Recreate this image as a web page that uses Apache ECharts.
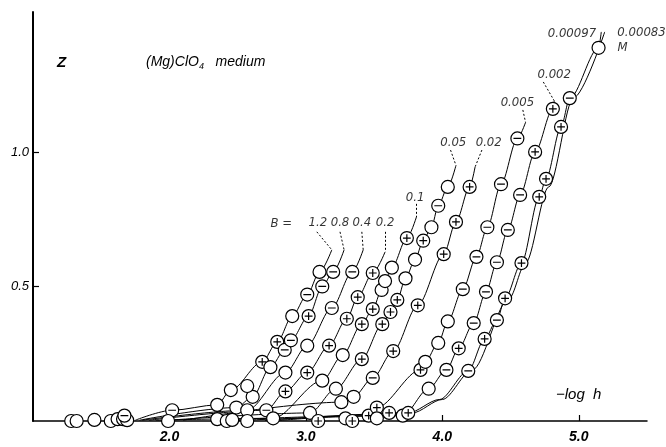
<!DOCTYPE html>
<html>
<head>
<meta charset="utf-8">
<script src="https://cdn.jsdelivr.net/npm/echarts@6/dist/echarts.min.js"></script>
<style>
  html, body { margin: 0; padding: 0; background: #fff; }
  #chart { width: 666px; height: 447px; }
</style>
</head>
<body>
<div id="chart"></div>
<script>
// B values (M) of each curve, left to right
const curveB = ['1.2', '0.8', '0.4', '0.2', '0.1', '0.05', '0.02', '0.005', '0.002', '0.00097', '0.00083'];

// points: [-log h, Z, mark]  mark: 'o' plain, '+' plus, '-' minus, '' line only
const b_1_2 = [[1.75, 0.003, ''], [2.02, 0.04, '-'], [2.35, 0.06, 'o'], [2.45, 0.115, 'o'], [2.68, 0.22, '+'], [2.79, 0.294, '+'], [2.90, 0.39, 'o'], [3.01, 0.47, '-'], [3.10, 0.554, 'o'], [3.19, 0.636, '']];
const b_0_8 = [[1.78, 0.003, ''], [2.49, 0.05, 'o'], [2.61, 0.09, 'o'], [2.74, 0.20, 'o'], [2.845, 0.264, '-'], [2.89, 0.30, '-'], [3.02, 0.39, '+'], [3.12, 0.50, '-'], [3.20, 0.554, '-'], [3.28, 0.636, '']];
const b_0_4 = [[1.80, 0.003, ''], [2.57, 0.04, 'o'], [2.85, 0.18, 'o'], [3.01, 0.28, 'o'], [3.19, 0.42, '-'], [3.34, 0.554, '-'], [3.42, 0.636, '']];
const b_0_2 = [[1.85, 0.003, ''], [2.71, 0.04, '-'], [2.85, 0.11, '+'], [3.01, 0.18, '+'], [3.17, 0.28, '+'], [3.30, 0.38, '+'], [3.38, 0.46, '+'], [3.49, 0.55, '+'], [3.58, 0.628, '']];
const b_0_1 = [[1.90, 0.003, ''], [2.76, 0.01, 'o'], [3.12, 0.15, 'o'], [3.27, 0.245, 'o'], [3.41, 0.36, '+'], [3.49, 0.416, '+'], [3.555, 0.487, 'o'], [3.58, 0.52, 'o'], [3.63, 0.57, 'o'], [3.74, 0.68, '+'], [3.81, 0.758, '']];
const b_0_05 = [[2.00, 0.003, ''], [3.03, 0.03, 'o'], [3.22, 0.12, 'o'], [3.41, 0.23, '+'], [3.56, 0.36, '+'], [3.62, 0.405, '+'], [3.67, 0.45, '+'], [3.73, 0.53, 'o'], [3.80, 0.60, 'o'], [3.86, 0.67, '+'], [3.92, 0.72, 'o'], [3.97, 0.80, '-'], [4.04, 0.87, 'o'], [4.10, 0.95, '']];
const b_0_02 = [[2.10, 0.003, ''], [3.26, 0.07, 'o'], [3.35, 0.09, 'o'], [3.49, 0.16, '-'], [3.64, 0.26, '+'], [3.82, 0.43, '+'], [4.01, 0.62, '+'], [4.10, 0.74, '+'], [4.20, 0.87, '+'], [4.24, 0.944, '']];
const b_0_005 = [[2.30, 0.002, ''], [3.46, 0.02, '+'], [3.52, 0.05, '+'], [3.84, 0.19, '+'], [3.875, 0.22, 'o'], [3.97, 0.29, 'o'], [4.04, 0.37, 'o'], [4.15, 0.49, '-'], [4.25, 0.61, '-'], [4.33, 0.72, '-'], [4.43, 0.88, '-'], [4.55, 1.05, '-'], [4.61, 1.11, '']];
const b_0_002 = [[2.50, 0.002, ''], [3.71, 0.02, 'o'], [3.90, 0.12, 'o'], [4.03, 0.19, '-'], [4.12, 0.27, '+'], [4.23, 0.364, '-'], [4.32, 0.48, '-'], [4.40, 0.59, '-'], [4.48, 0.71, '-'], [4.57, 0.84, '-'], [4.68, 1.00, '+'], [4.81, 1.16, '+'], [4.82, 1.19, '']];
const b_0_00097 = [[2.70, 0.002, ''], [3.75, 0.03, '+'], [3.98, 0.08, ''], [4.19, 0.186, '-'], [4.31, 0.305, '+'], [4.40, 0.375, '-'], [4.46, 0.456, '+'], [4.58, 0.587, '+'], [4.71, 0.833, '+'], [4.76, 0.90, '+'], [4.87, 1.093, '+'], [4.934, 1.20, '-'], [5.145, 1.387, 'o'], [5.165, 1.446, '']];
const b_0_00083 = [[2.80, 0.002, ''], [3.78, 0.03, ''], [4.00, 0.08, ''], [4.22, 0.19, ''], [4.49, 0.456, ''], [4.61, 0.587, ''], [4.78, 0.87, ''], [4.96, 1.20, ''], [5.19, 1.446, '']];
const curvePts = [b_1_2, b_0_8, b_0_4, b_0_2, b_0_1, b_0_05, b_0_02, b_0_005, b_0_002, b_0_00097, b_0_00083];

// points lying on the base line, not tied to one curve
const basePts = [[1.28, 0, 'o'], [1.32, 0, 'o'], [1.45, 0.004, 'o'], [1.57, 0, 'o'], [1.62, 0.007, 'o'], [1.66, 0.007, 'o'], [1.69, 0.003, 'o'], [1.67, 0.02, '-'], [1.99, 0, 'o'], [2.35, 0.007, 'o'], [2.42, 0, 'o'], [2.46, 0.004, 'o'], [2.57, 0, 'o'], [2.57, 0.13, 'o'], [3.09, 0, '+'], [3.29, 0.01, 'o'], [3.34, 0, '+'], [3.52, 0.01, 'o'], [3.61, 0.03, '+']];

// curve tags: text, label position, leader start, leader end (curve top)
const tagText = ['B =', '1.2', '0.8', '0.4', '0.2', '0.1', '0.05', '0.02', '0.005', '0.002', '0.00097', '0.00083', 'M'];
const tagPos = [[2.82, 0.732], [3.088, 0.736], [3.25, 0.736], [3.41, 0.736], [3.58, 0.736], [3.80, 0.829], [4.08, 1.033], [4.34, 1.033], [4.55, 1.182], [4.82, 1.286], [4.95, 1.439], [5.46, 1.442], [5.32, 1.387]];
const leaders = [
  [[3.08, 0.703], [3.19, 0.636]],
  [[3.25, 0.703], [3.28, 0.636]],
  [[3.41, 0.703], [3.42, 0.636]],
  [[3.58, 0.703], [3.58, 0.628]],
  [[3.81, 0.807], [3.81, 0.758]],
  [[4.06, 1.007], [4.10, 0.95]],
  [[4.29, 1.007], [4.24, 0.944]],
  [[4.59, 1.156], [4.61, 1.11]],
  [[4.74, 1.26], [4.82, 1.19]]
];

const xTicks = [2, 3, 4, 5];
const yTicks = [0.5, 1.0];

const ring = 'M10,0A10,10,0,1,1,-10,0A10,10,0,1,1,10,0Z';
const SYM = {
  'o': 'circle',
  '+': 'path://' + ring + 'M-6,0L6,0M0,-6L0,6',
  '-': 'path://' + ring + 'M-6,0L6,0'
};

const chart = echarts.init(document.getElementById('chart'));

const series = [];
curvePts.forEach((pts, i) => {
  series.push({
    name: curveB[i],
    type: 'line',
    data: pts.map(p => [p[0], p[1]]),
    showSymbol: false,
    smooth: 0.3,
    smoothMonotone: 'x',
    lineStyle: { color: '#000', width: 1 },
    z: 2,
    silent: true
  });
});

const marks = [];
curvePts.concat([basePts]).forEach(pts => {
  pts.forEach(p => {
    if (p[2]) marks.push({ value: [p[0], p[1]], symbol: SYM[p[2]] });
  });
});

series.push({
  type: 'scatter',
  data: marks,
  symbolSize: 13,
  itemStyle: { color: '#fff', borderColor: '#000', borderWidth: 1.2, opacity: 1 },
  z: 4,
  silent: true
});

series.push({
  type: 'lines',
  coordinateSystem: 'cartesian2d',
  data: leaders.map(l => ({ coords: l })),
  lineStyle: { color: '#000', width: 1, type: [2, 2], opacity: 1 },
  z: 3,
  silent: true
});

series.push({
  type: 'scatter',
  data: tagPos.map((p, i) => ({ value: p, name: tagText[i] })),
  symbolSize: 0,
  label: {
    show: true,
    position: 'inside',
    formatter: p => p.name,
    color: '#000',
    fontStyle: 'italic',
    fontSize: 13,
    fontFamily: '"Liberation Sans Narrow", "DejaVu Sans Condensed", "Liberation Sans", sans-serif'
  },
  z: 5,
  silent: true
});

const option = {
  animation: false,
  backgroundColor: '#fff',
  grid: { left: 33, right: 19, top: 12, bottom: 26 },
  xAxis: {
    type: 'value',
    min: 1,
    max: 5.5,
    axisLine: { show: true, onZero: false, lineStyle: { color: '#000', width: 1.5 } },
    axisTick: { show: true, inside: true, length: 6, customValues: xTicks, lineStyle: { color: '#000', width: 1.2 } },
    axisLabel: {
      customValues: xTicks,
      formatter: v => v.toFixed(1),
      color: '#000',
      fontStyle: 'italic',
      fontWeight: 'bold',
      fontSize: 14,
      margin: 9,
      fontFamily: '"Liberation Sans", sans-serif'
    },
    splitLine: { show: false }
  },
  yAxis: {
    type: 'value',
    min: 0,
    max: 1.52,
    axisLine: { show: true, onZero: false, lineStyle: { color: '#000', width: 2 } },
    axisTick: { show: true, inside: true, length: 6, customValues: yTicks, lineStyle: { color: '#000', width: 1.2 } },
    axisLabel: {
      customValues: yTicks,
      formatter: v => v.toFixed(1),
      color: '#000',
      fontStyle: 'italic',
      fontSize: 13,
      margin: 4,
      fontFamily: '"Liberation Sans", sans-serif'
    },
    splitLine: { show: false }
  },
  graphic: [
    {
      type: 'text', left: 57, top: 55,
      style: { text: 'Z', fontSize: 15, fontStyle: 'italic', fontWeight: 'bold', fill: '#000', fontFamily: '"Liberation Sans", sans-serif' }
    },
    {
      type: 'text', left: 146, top: 55,
      style: {
        text: '{a|(Mg)ClO}{s|4}{a|   medium}',
        fill: '#000',
        rich: {
          a: { fontSize: 14, fontStyle: 'italic', fontFamily: '"Liberation Sans", sans-serif' },
          s: { fontSize: 9, fontStyle: 'italic', padding: [8, 0, 0, 0], fontFamily: '"Liberation Sans", sans-serif' }
        }
      }
    },
    {
      type: 'text', left: 556, top: 387,
      style: { text: '\u2212log  h', fontSize: 15, fontStyle: 'italic', fill: '#000', fontFamily: '"Liberation Sans", sans-serif' }
    }
  ],
  series: series
};

chart.setOption(option);
</script>
</body>
</html>
